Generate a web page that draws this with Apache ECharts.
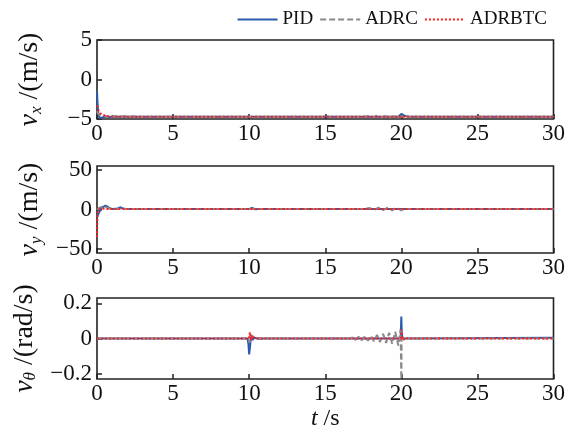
<!DOCTYPE html>
<html><head><meta charset="utf-8">
<script src="https://cdn.jsdelivr.net/npm/echarts@6/dist/echarts.min.js"></script>
<style>html,body{margin:0;padding:0;background:#fff}#c{width:568px;height:436px}</style>
</head><body><div id="c"></div>
<script>
const seriesNames = ['PID', 'ADRC', 'ADRBTC'];
const xTicks = [0, 5, 10, 15, 20, 25, 30];

// Panel 1: v_x (m/s)
const vxPID_t = [0, 0.03, 0.06, 0.1, 0.15, 0.2, 0.3, 0.45, 0.6, 0.8, 1.0, 1.5, 19.8, 19.9, 20.0, 20.1, 20.25, 20.5, 21.0, 30];
const vxPID_v = [-1.5, -2.8, -3.8, -4.5, -4.8, -4.9, -4.85, -4.75, -4.7, -4.74, -4.72, -4.72, -4.72, -4.6, -4.35, -4.45, -4.62, -4.7, -4.72, -4.72];
const vxADRC_t = [0, 0.1, 0.25, 0.45, 0.7, 0.95, 1.2, 1.45, 1.7, 1.95, 2.2, 2.5, 2.8, 3.2, 17.5, 17.8, 18.1, 18.4, 18.7, 19.0, 19.3, 19.6, 19.9, 20.1, 20.4, 30];
const vxADRC_v = [-4.0, -4.4, -4.55, -4.5, -4.7, -4.52, -4.72, -4.55, -4.72, -4.58, -4.72, -4.6, -4.72, -4.72, -4.72, -4.64, -4.76, -4.62, -4.78, -4.6, -4.78, -4.58, -4.8, -4.55, -4.72, -4.72];
const vxADRBTC_t = [0.02, 0.1, 0.2, 0.35, 0.55, 0.8, 1.2, 30];
const vxADRBTC_v = [-3.3, -3.9, -4.25, -4.5, -4.62, -4.68, -4.72, -4.72];

// Panel 2: v_y (m/s)
const vyPID_t = [0, 0.08, 0.18, 0.3, 0.42, 0.55, 0.7, 0.85, 1.0, 1.2, 1.4, 1.55, 1.7, 1.9, 10.0, 10.2, 10.4, 10.6, 30];
const vyPID_v = [-10, -6, -2, 2, 4.5, 5, 3.5, 1.5, 0.5, 0.8, 1.5, 2.8, 1.2, 0.6, 0.6, 2.0, 0.2, 0.6, 0.6];
const vyADRC_t = [0, 0.15, 0.35, 0.55, 0.8, 1.1, 1.5, 17.6, 17.9, 18.2, 18.5, 18.8, 19.1, 19.4, 19.7, 20.0, 20.2, 30];
const vyADRC_v = [0, 2, 3.5, 3, 1.5, 0.5, 0.6, 0.6, 2, -0.5, 2.2, -0.8, 2.4, -1, 2.5, -1.2, 0.6, 0.6];
const vyADRBTC_t = [0, 0.02, 0.05, 0.1, 0.2, 0.4, 0.7, 30];
const vyADRBTC_v = [-35, -12, -2, 0.5, 1.2, 1.0, 0.6, 0.6];

// Panel 3: v_theta (rad/s)
const vtPID_t = [0, 9.9, 9.95, 10.0, 10.05, 10.12, 10.2, 10.35, 10.6, 11, 19.95, 20.0, 20.03, 20.08, 20.2, 30];
const vtPID_v = [0, 0, -0.03, -0.09, -0.05, 0.01, -0.008, 0.004, -0.002, 0, 0, 0.125, 0.03, 0.0, 0.004, 0.004];
const vtADRC_t = [0, 9.95, 10.02, 10.1, 10.2, 10.4, 11, 16.6, 16.8, 17.0, 17.2, 17.4, 17.6, 17.8, 18.0, 18.2, 18.4, 18.6, 18.8, 19.0, 19.2, 19.4, 19.6, 19.8, 19.95, 20.0, 20.02, 20.1, 20.3, 30];
const vtADRC_v = [0, 0, -0.025, 0.02, 0.01, 0.003, 0, 0, 0.006, -0.008, 0.01, -0.01, 0.013, -0.012, 0.016, -0.015, 0.02, -0.02, 0.026, -0.025, 0.032, -0.03, 0.038, -0.04, 0.05, -0.23, 0.0, 0.005, 0, 0];
const vtADRBTC_t = [0, 9.98, 10.05, 10.12, 10.2, 10.35, 10.6, 19.97, 20.0, 20.05, 20.12, 20.25, 20.5, 30];
const vtADRBTC_v = [0, 0, 0.035, -0.01, 0.015, 0.002, 0, 0, 0.05, 0.012, -0.01, 0.003, 0, 0];

const yTicks1 = [-5, 0, 5];
const yTicks2 = [-50, 0, 50];
const yTicks3 = [-0.2, 0, 0.2];

const zip = (t, v) => t.map((x, i) => [x, v[i]]);
const FONT = '"Liberation Serif", "Times New Roman", serif';
const styles = [
  {color: '#2b5cab', type: 'solid', width: 2},
  {color: '#8a8a8a', type: [6, 3], width: 2},
  {color: '#ff2020', type: [2, 2], width: 2}
];
const panels = [
  {top: 40, height: 79, min: -5, max: 5, ticks: yTicks1, sub: 'x', unit: ' /(m/s)', data: [zip(vxPID_t, vxPID_v), zip(vxADRC_t, vxADRC_v), zip(vxADRBTC_t, vxADRBTC_v)]},
  {top: 166, height: 87, min: -55, max: 55, ticks: yTicks2, sub: 'y', unit: ' /(m/s)', data: [zip(vyPID_t, vyPID_v), zip(vyADRC_t, vyADRC_v), zip(vyADRBTC_t, vyADRBTC_v)]},
  {top: 298, height: 81, min: -0.23, max: 0.23, ticks: yTicks3, sub: 'θ', unit: ' /(rad/s)', data: [zip(vtPID_t, vtPID_v), zip(vtADRC_t, vtADRC_v), zip(vtADRBTC_t, vtADRBTC_v)]}
];
const lab = {fontFamily: FONT, fontSize: 23, color: '#111'};
const fmt = v => '{a|' + String(v).replace('-', '\u2212') + '}';
const grid = [], xAxis = [], yAxis = [], series = [];
panels.forEach((p, i) => {
  grid.push({left: 97, right: 13, top: p.top, height: p.height, show: true, borderColor: '#222', borderWidth: 1.6, backgroundColor: 'transparent'});
  xAxis.push({
    type: 'value', gridIndex: i, min: 0, max: 30, interval: 5,
    axisLine: {show: false, onZero: false}, splitLine: {show: false},
    axisTick: {show: true, inside: true, length: 5, lineStyle: {color: '#222', width: 1.5}},
    axisLabel: {fontFamily: FONT, fontSize: 23, color: '#111', margin: 3, formatter: fmt, rich: {a: lab}},
    name: i === 2 ? '{i|t}{n| /s}' : '', nameLocation: 'middle', nameGap: 28,
    nameTextStyle: {rich: {i: {fontFamily: FONT, fontStyle: 'italic', fontSize: 24, color: '#111'}, n: {fontFamily: FONT, fontSize: 24, color: '#111'}}}
  });
  yAxis.push({
    type: 'value', gridIndex: i, min: p.min, max: p.max,
    axisLine: {show: false, onZero: false}, splitLine: {show: false},
    axisTick: {show: true, inside: true, length: 5, customValues: p.ticks, lineStyle: {color: '#222', width: 1.5}},
    axisLabel: {fontFamily: FONT, fontSize: 23, color: '#111', margin: 5, customValues: p.ticks, formatter: fmt, rich: {a: lab}},
    name: '{v|v}{s|' + p.sub + '}{n|' + p.unit + '}', nameLocation: 'middle', nameRotate: 90, nameGap: 52,
    nameTextStyle: {rich: {
      v: {fontFamily: FONT, fontStyle: 'italic', fontSize: 28, lineHeight: 30, color: '#111', verticalAlign: 'middle'},
      s: {fontFamily: FONT, fontStyle: 'italic', fontSize: 17, lineHeight: 17, color: '#111', verticalAlign: 'bottom'},
      n: {fontFamily: FONT, fontSize: 28, lineHeight: 30, color: '#111', verticalAlign: 'middle'}
    }}
  });
  p.data.forEach((d, k) => {
    series.push({
      name: seriesNames[k], type: 'line', xAxisIndex: i, yAxisIndex: i, data: d,
      showSymbol: false, symbol: 'none', animation: false,
      lineStyle: styles[k], itemStyle: {color: styles[k].color}, z: 2 + k
    });
  });
});
const chart = echarts.init(document.getElementById('c'), null, {renderer: 'canvas'});
chart.setOption({
  animation: false,
  textStyle: {fontFamily: FONT},
  legend: {
    data: seriesNames, top: 5, right: 16, itemWidth: 40, itemHeight: 14, itemGap: 6,
    itemStyle: {opacity: 0},
    formatter: n => '{a|' + n + '}',
    textStyle: {fontFamily: FONT, fontSize: 19, color: '#111', rich: {a: {fontFamily: FONT, fontSize: 19, color: '#111'}}}
  },
  grid, xAxis, yAxis, series
});
</script></body></html>
